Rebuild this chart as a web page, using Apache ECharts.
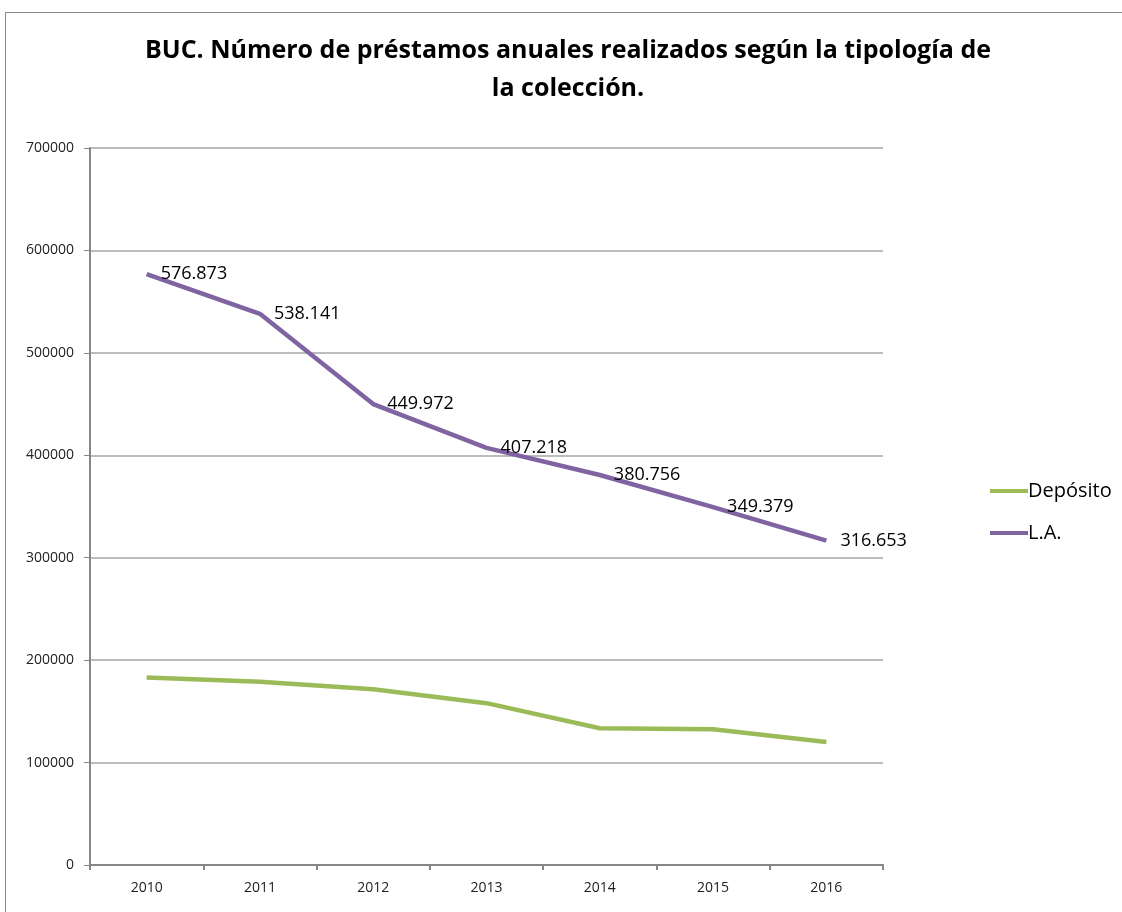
<!DOCTYPE html>
<html>
<head>
<meta charset="utf-8">
<script src="https://cdn.jsdelivr.net/npm/echarts@6/dist/echarts.min.js"></script>
<style>
  html, body { margin: 0; padding: 0; background: #fff; }
  #frame { position: absolute; left: 5px; top: 12px; width: 1130px; height: 910px; border: 1px solid #8a8a8a; }
  #chart { width: 1122px; height: 912px; }
</style>
</head>
<body>
<div id="frame"></div>
<div id="chart"></div>
<script>
const years = ['2010', '2011', '2012', '2013', '2014', '2015', '2016']
const deposito = [183000, 179000, 171500, 158000, 133500, 132500, 120000]
const libreAcceso = [576873, 538141, 449972, 407218, 380756, 349379, 316653]
const yTicks = [0, 100000, 200000, 300000, 400000, 500000, 600000, 700000]

const chart = echarts.init(document.getElementById('chart'))

// separador de miles con punto
function fmt(v) {
  return String(v).replace(/\B(?=(\d{3})+(?!\d))/g, '.')
}

chart.setOption({
  animation: false,
  title: {
    text: 'BUC. Número de préstamos anuales realizados según la tipología de\nla colección.',
    left: 563,
    top: 27,
    textAlign: 'center',
    textStyle: {
      fontFamily: 'Open Sans',
      fontWeight: 'bold',
      fontSize: 25,
      lineHeight: 38,
      color: '#000',
    },
  },
  legend: {
    orient: 'vertical',
    left: 985,
    top: 476,
    itemGap: 22,
    itemWidth: 38,
    itemHeight: 4,
    icon: 'rect',
    textStyle: { fontFamily: 'Open Sans', fontSize: 20, color: '#000', padding: [0, 0, 0, -5] },
    data: ['Depósito', 'L.A.'],
  },
  grid: { left: 90, right: 239, top: 148, bottom: 47 },
  xAxis: {
    type: 'category',
    data: years,
    boundaryGap: true,
    axisLine: { lineStyle: { color: '#868686', width: 2 } },
    axisTick: { show: true, length: 5, lineStyle: { color: '#868686', width: 2 } },
    axisLabel: { fontFamily: 'Open Sans', fontSize: 14, color: '#222', margin: 16 },
  },
  yAxis: {
    type: 'value',
    min: yTicks[0],
    max: yTicks[yTicks.length - 1],
    interval: 100000,
    axisLine: { show: true, lineStyle: { color: '#868686', width: 2 } },
    axisTick: { show: true, length: 6, lineStyle: { color: '#868686', width: 1 } },
    axisLabel: { fontFamily: 'Open Sans', fontSize: 14, color: '#222', margin: 16, formatter: v => String(v) },
    splitLine: { lineStyle: { color: '#a6a6a6', width: 1.5 } },
  },
  series: [
    {
      name: 'Depósito',
      type: 'line',
      data: deposito,
      symbol: 'none',
      lineStyle: { color: '#9bbb59', width: 4.5 },
      itemStyle: { color: '#9bbb59' },
    },
    {
      name: 'L.A.',
      type: 'line',
      data: libreAcceso,
      symbol: 'circle',
      symbolSize: 0.1,
      showSymbol: true,
      lineStyle: { color: '#8064a2', width: 4.5 },
      itemStyle: { color: '#8064a2' },
      label: {
        show: true,
        position: 'right',
        distance: 14,
        fontFamily: 'Open Sans',
        fontSize: 18,
        color: '#000',
        formatter: p => fmt(p.value),
      },
    },
  ],
})
</script>
</body>
</html>
